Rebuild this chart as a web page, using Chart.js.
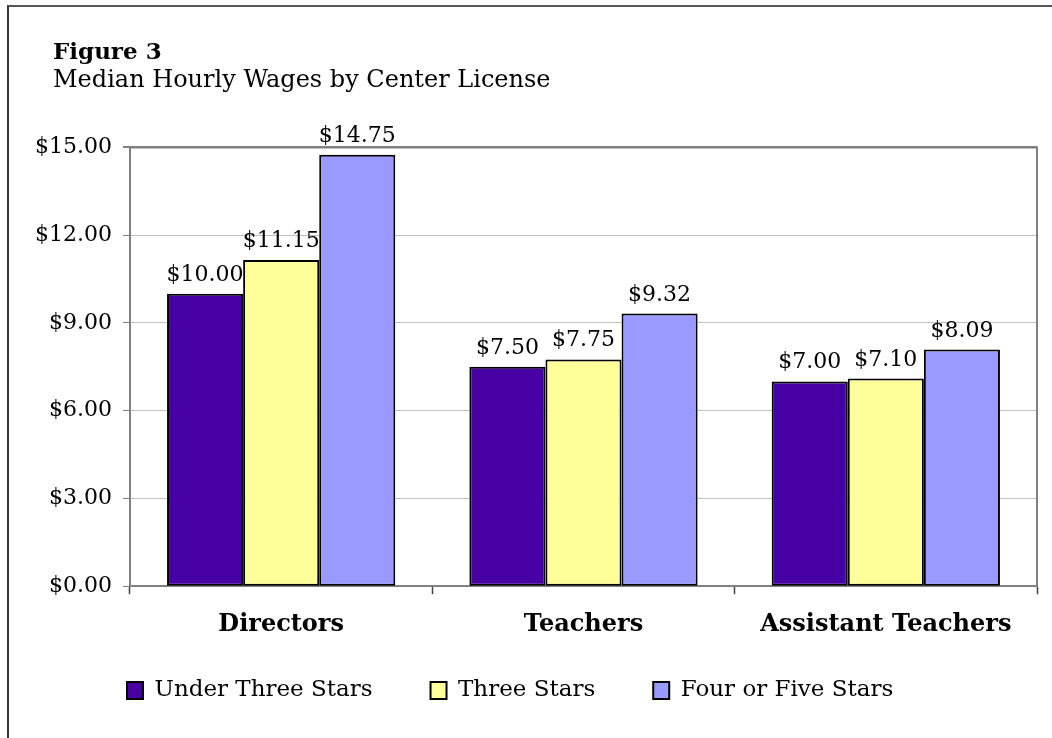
<!DOCTYPE html>
<html lang="en">
<head>
    <meta charset="UTF-8">
    <title>Figure 3 - Median Hourly Wages by Center License</title>
    <script src="https://cdn.jsdelivr.net/npm/chart.js"></script>
    <style>
        body {
            margin: 0;
            background: #fff;
            overflow: hidden;
        }
        #frame {
            position: absolute;
            left: 7px;
            top: 5px;
            width: 1100px;
            height: 800px;
            border-left: 2px solid #333;
            border-top: 2px solid #555;
        }
        #wrap {
            position: absolute;
            left: 0;
            top: 0;
            width: 1052px;
            height: 738px;
        }
    </style>
</head>
<body>
    <div id="frame"></div>
    <div id="wrap">
        <canvas id="wagesChart" width="1052" height="738"></canvas>
    </div>

    <script>
        const categories = ['Directors', 'Teachers', 'Assistant Teachers'];
        const seriesNames = ['Under Three Stars', 'Three Stars', 'Four or Five Stars'];
        const underThreeStars = [10.00, 7.50, 7.00];
        const threeStars = [11.15, 7.75, 7.10];
        const fourFiveStars = [14.75, 9.32, 8.09];
        const yTicks = [0, 3, 6, 9, 12, 15];
        const seriesColors = ['#4700a3', '#ffff99', '#9999ff'];

        const FONT = "'DejaVu Serif', serif";
        const TITLE_TEXT = 'Figure 3';
        const SUBTITLE_TEXT = 'Median Hourly Wages by Center License';
        const money = v => '$' + Number(v).toFixed(2);

        // value labels above each bar
        const barLabels = {
            id: 'barLabels',
            afterDatasetsDraw(chart) {
                const ctx = chart.ctx;
                ctx.save();
                ctx.font = '22px ' + FONT;
                ctx.fillStyle = '#000';
                ctx.textAlign = 'center';
                ctx.textBaseline = 'alphabetic';
                chart.data.datasets.forEach((ds, i) => {
                    chart.getDatasetMeta(i).data.forEach((bar, j) => {
                        ctx.fillText(money(ds.data[j]), bar.x, bar.y - 13);
                    });
                });
                ctx.restore();
            }
        };

        // grey box round the plot area (top and right sides)
        const plotFrame = {
            id: 'plotFrame',
            beforeDatasetsDraw(chart) {
                const {left, top, right, bottom} = chart.chartArea;
                const ctx = chart.ctx;
                ctx.save();
                ctx.strokeStyle = '#808080';
                ctx.lineWidth = 2;
                ctx.beginPath();
                ctx.moveTo(left, top);
                ctx.lineTo(right, top);
                ctx.lineTo(right, bottom);
                ctx.stroke();
                ctx.restore();
            }
        };

        // move titles and legend to where the original has them
        const placeBoxes = {
            id: 'placeBoxes',
            afterLayout(chart) {
                chart.boxes.forEach(b => {
                    if (b.options && (b.options.text === TITLE_TEXT || b.options.text === SUBTITLE_TEXT)) {
                        const dx = 53 - b.left;
                        b.left += dx; b.right += dx;
                    }
                });
                const lg = chart.legend;
                const pad = lg.options.labels.padding;
                const dx = 127 - (lg.left + pad);
                const dy = 679 - (lg.top + pad);
                lg.left += dx; lg.right += dx;
                lg.top += dy; lg.bottom += dy;
            }
        };

        const ctx = document.getElementById('wagesChart').getContext('2d');
        new Chart(ctx, {
            type: 'bar',
            data: {
                labels: categories,
                datasets: [underThreeStars, threeStars, fourFiveStars].map((values, i) => ({
                    label: seriesNames[i],
                    data: values,
                    backgroundColor: seriesColors[i],
                    borderColor: '#000',
                    borderWidth: 2,
                    borderSkipped: false,
                    categoryPercentage: 0.755,
                    barPercentage: 1.0
                }))
            },
            options: {
                responsive: false,
                animation: false,
                devicePixelRatio: 1,
                layout: {
                    padding: { left: 12, right: 15, top: 0, bottom: 0 }
                },
                scales: {
                    x: {
                        grid: {
                            display: true,
                            offset: true,
                            drawOnChartArea: false,
                            drawTicks: true,
                            tickLength: 8,
                            tickColor: '#404040',
                            tickWidth: 1.5
                        },
                        border: { display: true, color: '#808080', width: 2 },
                        ticks: {
                            color: '#000',
                            padding: 16,
                            font: { family: FONT, size: 24, weight: 'bold' }
                        }
                    },
                    y: {
                        min: 0,
                        max: 15,
                        afterBuildTicks: scale => {
                            scale.ticks = yTicks.map(v => ({ value: v }));
                        },
                        afterFit: scale => {
                            scale.width = 118;
                        },
                        grid: {
                            color: c => (c.tick && c.tick.value === 15) ? '#808080' : '#c0c0c0',
                            lineWidth: c => (c.tick && c.tick.value === 15) ? 2 : 1,
                            tickColor: '#808080',
                            tickLength: 7
                        },
                        border: { display: true, color: '#808080', width: 2 },
                        ticks: {
                            color: '#000',
                            padding: 11,
                            font: { family: FONT, size: 22 },
                            callback: v => money(v)
                        }
                    }
                },
                plugins: {
                    title: {
                        display: true,
                        text: TITLE_TEXT,
                        align: 'start',
                        color: '#000',
                        font: { family: FONT, size: 23, weight: 'bold', lineHeight: 1.2 },
                        padding: { top: 39, bottom: 0 }
                    },
                    subtitle: {
                        display: true,
                        text: SUBTITLE_TEXT,
                        align: 'start',
                        color: '#000',
                        font: { family: FONT, size: 24, lineHeight: 1.2 },
                        padding: { top: 0, bottom: 52 }
                    },
                    legend: {
                        position: 'bottom',
                        align: 'start',
                        maxHeight: 83,
                        labels: {
                            color: '#000',
                            boxWidth: 16,
                            boxHeight: 17,
                            padding: 58,
                            font: { family: FONT, size: 23 }
                        }
                    },
                    tooltip: { enabled: false }
                }
            },
            plugins: [barLabels, plotFrame, placeBoxes]
        });
    </script>
</body>
</html>
